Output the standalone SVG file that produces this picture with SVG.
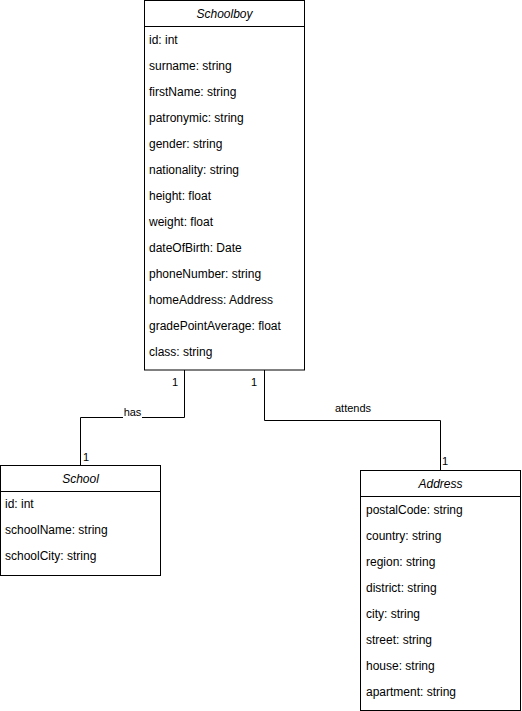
<svg xmlns="http://www.w3.org/2000/svg" width="522" height="711" viewBox="0 0 522 711">
  <style>
    .box { fill: #ffffff; stroke: #000000; stroke-width: 1; }
    .sep { stroke: #000000; stroke-width: 1; }
    .title { font-family: "Liberation Sans", Arial, Helvetica, sans-serif; font-size: 12px; font-style: italic; text-anchor: middle; fill: #000000; }
    .attr { font-family: "Liberation Sans", Arial, Helvetica, sans-serif; font-size: 12px; fill: #000000; }
    .edge { fill: none; stroke: #000000; stroke-width: 1; }
    .lbl { font-family: "Liberation Sans", Arial, Helvetica, sans-serif; font-size: 11px; fill: #000000; }
  </style>
  <rect width="522" height="711" fill="#ffffff"/>

  <!-- associations -->
  <g id="connectors">
    <polyline class="edge" points="184.5,370 184.5,417.5 80.5,417.5 80.5,465.5"/>
    <rect x="123" y="405" width="19" height="14" fill="#ffffff"/>
    <text class="lbl" x="132.5" y="416" text-anchor="middle">has</text>
    <text class="lbl" x="172" y="386">1</text>
    <text class="lbl" x="83" y="461">1</text>

    <polyline class="edge" points="264.5,370 264.5,420.5 440.5,420.5 440.5,470.5"/>
    <text class="lbl" x="353" y="412" text-anchor="middle">attends</text>
    <text class="lbl" x="251" y="386">1</text>
    <text class="lbl" x="442" y="465">1</text>
  </g>

  <!-- Schoolboy class -->
  <g id="schoolboy">
    <rect class="box" x="144.5" y="0.5" width="160" height="369.5"/>
    <line class="sep" x1="144.5" y1="26.5" x2="304.5" y2="26.5"/>
    <text class="title" x="224.5" y="18">Schoolboy</text>
    <text class="attr" x="149" y="44">id: int</text>
    <text class="attr" x="149" y="70">surname: string</text>
    <text class="attr" x="149" y="96">firstName: string</text>
    <text class="attr" x="149" y="122">patronymic: string</text>
    <text class="attr" x="149" y="148">gender: string</text>
    <text class="attr" x="149" y="174">nationality: string</text>
    <text class="attr" x="149" y="200">height: float</text>
    <text class="attr" x="149" y="226">weight: float</text>
    <text class="attr" x="149" y="252">dateOfBirth: Date</text>
    <text class="attr" x="149" y="278">phoneNumber: string</text>
    <text class="attr" x="149" y="304">homeAddress: Address</text>
    <text class="attr" x="149" y="330">gradePointAverage: float</text>
    <text class="attr" x="149" y="356">class: string</text>
  </g>

  <!-- School class -->
  <g id="school">
    <rect class="box" x="0.5" y="465.5" width="160" height="110"/>
    <line class="sep" x1="0.5" y1="491.5" x2="160.5" y2="491.5"/>
    <text class="title" x="80.5" y="483">School</text>
    <text class="attr" x="5" y="508">id: int</text>
    <text class="attr" x="5" y="534">schoolName: string</text>
    <text class="attr" x="5" y="560">schoolCity: string</text>
  </g>

  <!-- Address class -->
  <g id="address">
    <rect class="box" x="360.5" y="470.5" width="160" height="240"/>
    <line class="sep" x1="360.5" y1="496.5" x2="520.5" y2="496.5"/>
    <text class="title" x="440.5" y="488">Address</text>
    <text class="attr" x="366" y="514">postalCode: string</text>
    <text class="attr" x="366" y="540">country: string</text>
    <text class="attr" x="366" y="566">region: string</text>
    <text class="attr" x="366" y="592">district: string</text>
    <text class="attr" x="366" y="618">city: string</text>
    <text class="attr" x="366" y="644">street: string</text>
    <text class="attr" x="366" y="670">house: string</text>
    <text class="attr" x="366" y="696">apartment: string</text>
  </g>
</svg>
